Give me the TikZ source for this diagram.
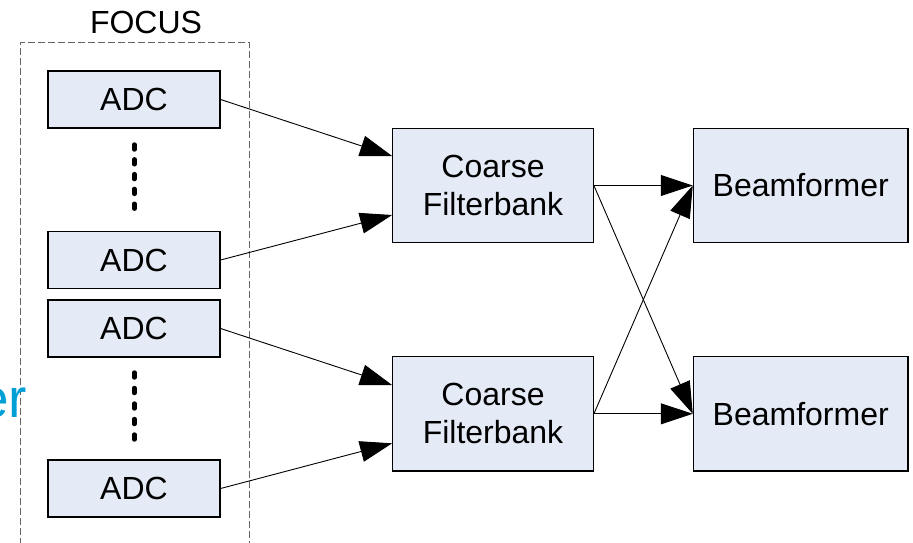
\documentclass[tikz,border=0pt]{standalone}
\usepackage{fontspec}
\setmainfont{Liberation Sans}
\usetikzlibrary{arrows.meta,calc}

\definecolor{boxfill}{RGB}{228,235,247}
\definecolor{framegray}{RGB}{100,100,100}
\definecolor{titlecyan}{RGB}{0,160,214}

\tikzset{
  block/.style={draw=black, line width=1.2pt, fill=boxfill, inner sep=0pt,
    align=center, font=\fontsize{32}{38}\selectfont},
  adcbox/.style={block, minimum width=172pt, minimum height=57pt},
  fbbox/.style={block, minimum width=200.6pt, minimum height=114.4pt},
  bfbox/.style={block, minimum width=214.7pt, minimum height=114.4pt},
  link/.style={draw=black, line width=0.9pt,
    -{Triangle[length=32pt,width=21pt]}},
  ellipsis/.style={line width=4.4pt, line cap=round},
  frame/.style={draw=framegray, line width=1pt, dash pattern=on 7pt off 3pt}
}

\begin{document}
\begin{tikzpicture}[x=1pt, y=-1pt]
  \useasboundingbox (0,0) rectangle (913,542);

  % dashed FOCUS group (open at the bottom)
  \draw[frame] (20,545) -- (20,42.7) -- (249.3,42.7) -- (249.3,545);
  \node[anchor=base, font=\fontsize{32}{38}\selectfont] (focus) at (146,33.3) {FOCUS};

  % partially visible title word on the left
  \node[anchor=base east, inner sep=0pt, text=titlecyan,
        font=\fontsize{55}{60}\selectfont] (title) at (27.5,417) {er};

  % ADC column
  \node[adcbox] (adc1) at (134,99.5) {ADC};
  \node[adcbox] (adc2) at (134,260) {ADC};
  \node[adcbox] (adc3) at (134,328.5) {ADC};
  \node[adcbox] (adc4) at (134,488.5) {ADC};

  % vertical ellipses between ADCs
  \draw[ellipsis, dash pattern=on 5pt off 9.8pt] (134.3,144.5) -- (134.3,209);
  \draw[ellipsis, dash pattern=on 5pt off 10.5pt] (134.3,372.5) -- (134.3,440);

  % processing stages
  \node[fbbox] (cf1) at (493,185.5) {Coarse\\Filterbank};
  \node[fbbox] (cf2) at (493,413.8) {Coarse\\Filterbank};
  \node[bfbox] (bf1) at (800.7,185.5) {Beamformer};
  \node[bfbox] (bf2) at (800.7,413.8) {Beamformer};

  % filterbank input points
  \coordinate (cf1a) at ([yshift=29.5pt]cf1.west);
  \coordinate (cf1b) at ([yshift=-29.5pt]cf1.west);
  \coordinate (cf2a) at ([yshift=28.8pt]cf2.west);
  \coordinate (cf2b) at ([yshift=-29.5pt]cf2.west);

  % connectors
  \draw[link] (adc1.east) -- (cf1a);
  \draw[link] (adc2.east) -- (cf1b);
  \draw[link] (adc3.east) -- (cf2a);
  \draw[link] (adc4.east) -- (cf2b);

  \draw[link] (cf1.east) -- (bf1.west);
  \draw[link] (cf1.east) -- (bf2.west);
  \draw[link] (cf2.east) -- (bf1.west);
  \draw[link] (cf2.east) -- (bf2.west);
\end{tikzpicture}
\end{document}
